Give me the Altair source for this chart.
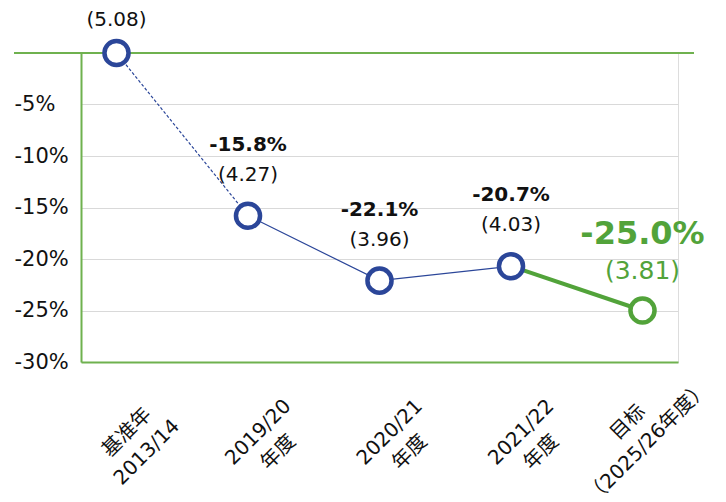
import altair as alt
import pandas as pd

categories = ["基准年|2013/14", "2019/20|年度", "2020/21|年度", "2021/22|年度", "目标|（2025/26年度）"]
pct = [0.0, -15.8, -22.1, -20.7, -25.0]
totals = [5.08, 4.27, 3.96, 4.03, 3.81]
pct_labels = ["", "-15.8%", "-22.1%", "-20.7%", "-25.0%"]
y_ticks = [-5, -10, -15, -20, -25, -30]

BLUE = "#2b4699"
GREEN = "#52a33a"
AXIS_GREEN = "#6fb14f"
FONT = "DejaVu Sans, Noto Sans CJK SC"

df = pd.DataFrame({
    "cat": categories,
    "pct": pct,
    "total": ["(%.2f)" % t for t in totals],
    "plabel": pct_labels,
    "i": list(range(len(categories))),
})

is_target = "indexof(datum.value, '目标') >= 0"
xenc = alt.X("cat:N", sort=categories, title=None,
             scale=alt.Scale(type="point", padding=0.27),
             axis=alt.Axis(labelExpr="split(datum.label, '|')", labelAngle=-45,
                           labelAlign="center", labelBaseline="middle",
                           labelPadding={"condition": {"test": is_target, "value": 60}, "value": 70},
                           labelOffset={"condition": {"test": is_target, "value": -15}, "value": 10},
                           labelFont=FONT, labelFontSize=20, labelColor="#111111", labelLineHeight=28,
                           ticks=False, domainColor=AXIS_GREEN, domainWidth=2, grid=False))
yenc = alt.Y("pct:Q", title=None,
             scale=alt.Scale(domain=[-30, 0], nice=False, zero=False),
             axis=alt.Axis(values=y_ticks, labelExpr="datum.value + '%'", labelAlign="left",
                           labelPadding=67, ticks=False, labelFont=FONT, labelFontSize=21,
                           labelColor="#111111", domainColor=AXIS_GREEN, domainWidth=2,
                           gridColor="#d9d9d9", gridWidth=1))

base = alt.Chart(df).encode(x=xenc, y=yenc)

top_rule = alt.Chart(pd.DataFrame({"v": [0]})).mark_rule(color=AXIS_GREEN, strokeWidth=2).encode(
    y=alt.Y("v:Q", scale=alt.Scale(domain=[-30, 0], nice=False, zero=False)),
    x=alt.value(-67), x2=alt.value(613))

dashed = base.transform_filter("datum.i <= 1").mark_line(color=BLUE, strokeWidth=1.2, strokeDash=[3, 2])
solid = base.transform_filter("datum.i >= 1 && datum.i <= 3").mark_line(color=BLUE, strokeWidth=1.2)
green_line = base.transform_filter("datum.i >= 3").mark_line(color=GREEN, strokeWidth=4)

blue_pts = base.transform_filter("datum.i <= 3").mark_point(
    shape="circle", size=580, filled=True, fill="white", stroke=BLUE, strokeWidth=4.5, opacity=1)
green_pts = base.transform_filter("datum.i == 4").mark_point(
    shape="circle", size=580, filled=True, fill="white", stroke=GREEN, strokeWidth=4.5, opacity=1)

pct_txt = base.transform_filter("datum.i >= 1 && datum.i <= 3").mark_text(
    font=FONT, fontSize=20, fontWeight="bold", color="#111111", dy=-71, baseline="middle").encode(text="plabel:N")
tot_txt = base.transform_filter("datum.i >= 1 && datum.i <= 3").mark_text(
    font=FONT, fontSize=20, color="#111111", dy=-41, baseline="middle").encode(text="total:N")
first_txt = base.transform_filter("datum.i == 0").mark_text(
    font=FONT, fontSize=20, color="#111111", dy=-33, baseline="middle").encode(text="total:N")
g_pct = base.transform_filter("datum.i == 4").mark_text(
    font=FONT, fontSize=32, fontWeight="bold", color=GREEN, dy=-77, baseline="middle").encode(text="plabel:N")
g_tot = base.transform_filter("datum.i == 4").mark_text(
    font=FONT, fontSize=25, color=GREEN, dy=-40, baseline="middle").encode(text="total:N")

chart = alt.layer(top_rule, dashed, solid, green_line, blue_pts, green_pts,
                  pct_txt, tot_txt, first_txt, g_pct, g_tot).properties(
    width=597, height=309,
    autosize=alt.AutoSizeParams(type="none"),
    padding={"left": 73, "top": 45, "right": 40, "bottom": 132},
).configure_view(stroke=None).configure(background="white")

chart.save("out.html", embed_options={"renderer": "svg", "actions": False})
